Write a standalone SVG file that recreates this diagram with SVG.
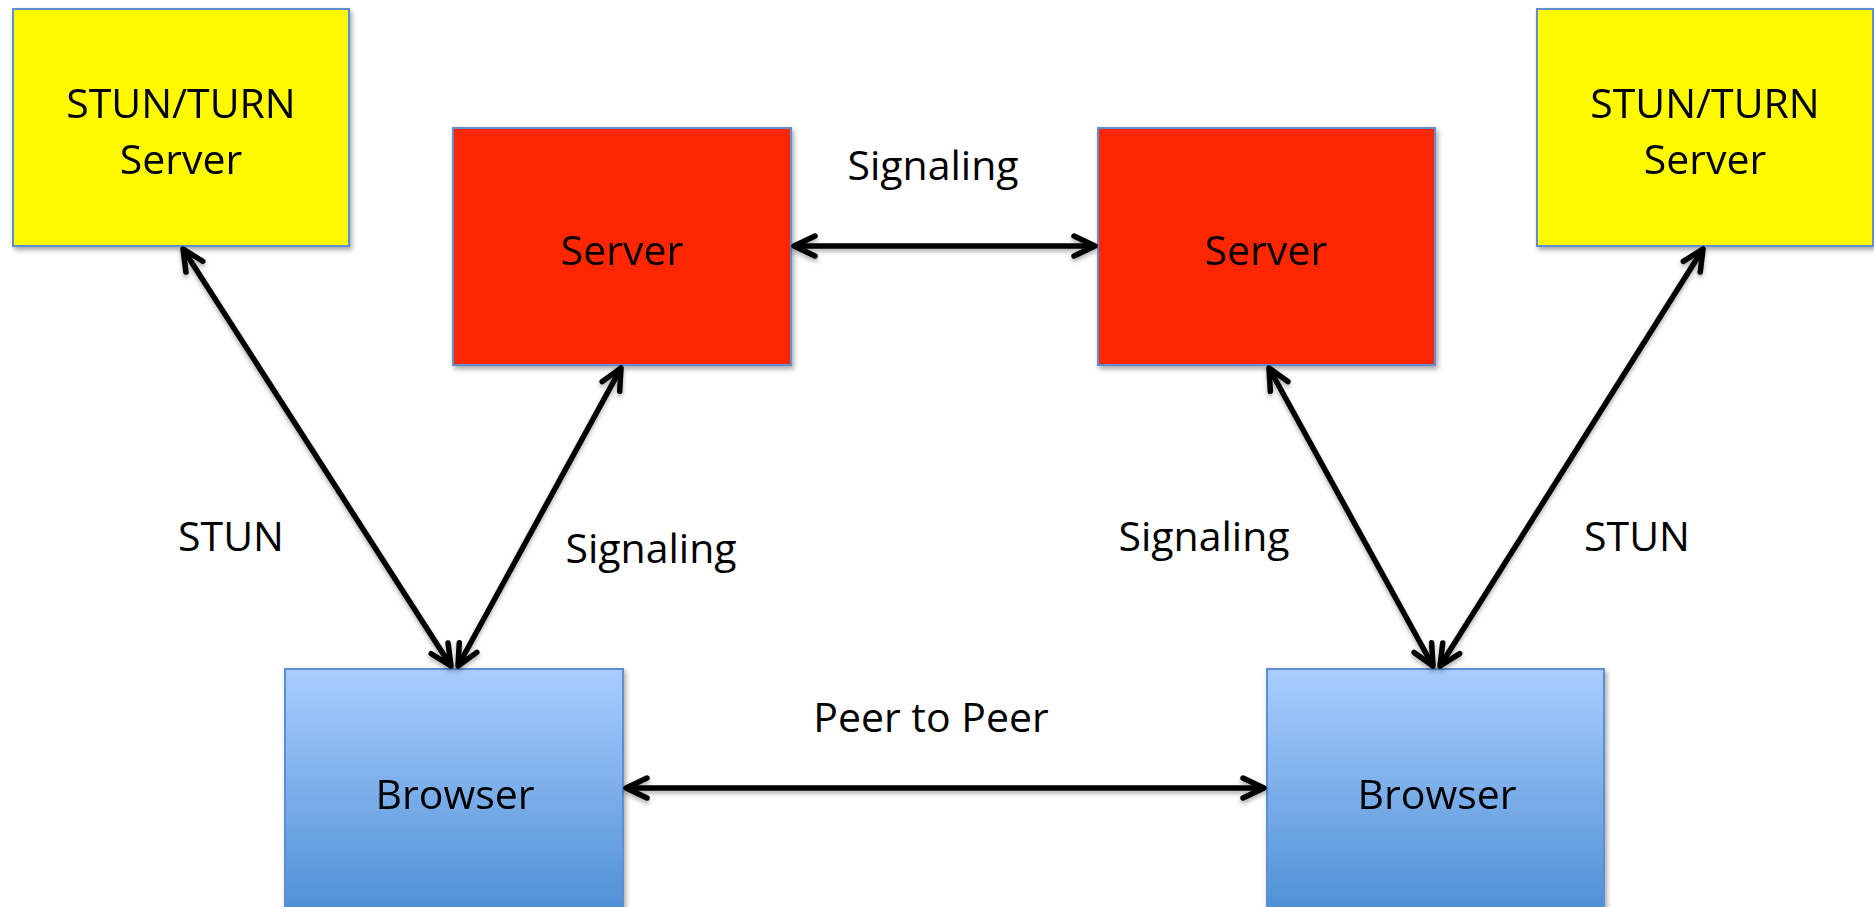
<svg xmlns="http://www.w3.org/2000/svg" width="1874" height="907" viewBox="0 0 1874 907">
  <style>
    .box { stroke: #5D8FD2; stroke-width: 2; }
    .stun { fill: #FFFA00; }
    .srv { fill: #FF2500; }
    .brw { fill: url(#browserFill); }
    .lbl { font-family: "Open Sans", "Liberation Sans", sans-serif; font-size: 41px; fill: #000; text-anchor: middle; }
    .link { stroke: #000; stroke-width: 5.5; fill: none; marker-start: url(#chev); marker-end: url(#chev); }
  </style>
  <defs>
    <linearGradient id="browserFill" x1="0" y1="0" x2="0" y2="1">
      <stop offset="0" stop-color="#A9CDFF"/>
      <stop offset="1" stop-color="#4F91D6"/>
    </linearGradient>
    <filter id="shadow" x="-10%" y="-10%" width="130%" height="130%">
      <feDropShadow dx="2" dy="3" stdDeviation="2.5" flood-color="#000" flood-opacity="0.35"/>
    </filter>
    <filter id="lineShadow" x="-10%" y="-10%" width="120%" height="120%">
      <feDropShadow dx="0" dy="3" stdDeviation="2" flood-color="#000" flood-opacity="0.3"/>
    </filter>
    <marker id="chev" markerUnits="userSpaceOnUse" viewBox="-30 -16 36 32" refX="0" refY="0" markerWidth="36" markerHeight="32" orient="auto-start-reverse">
      <path d="M -21 -10 L 0 0 L -21 10" fill="none" stroke="#000" stroke-width="5.5" stroke-linecap="round" stroke-linejoin="round"/>
    </marker>
  </defs>

  <rect width="1874" height="907" fill="#fff"/>

  <!-- nodes -->
  <g id="stun-left" filter="url(#shadow)">
    <rect class="box stun" x="13" y="9" width="336" height="237"/>
    <text class="lbl" x="181" y="118">STUN/TURN</text>
    <text class="lbl" x="181" y="174">Server</text>
  </g>

  <g id="server-left" filter="url(#shadow)">
    <rect class="box srv" x="453" y="128" width="338" height="237"/>
    <text class="lbl" x="622" y="265">Server</text>
  </g>

  <g id="server-right" filter="url(#shadow)">
    <rect class="box srv" x="1098" y="128" width="337" height="237"/>
    <text class="lbl" x="1266" y="265">Server</text>
  </g>

  <g id="stun-right" filter="url(#shadow)">
    <rect class="box stun" x="1537" y="9" width="336" height="237"/>
    <text class="lbl" x="1705" y="118">STUN/TURN</text>
    <text class="lbl" x="1705" y="174">Server</text>
  </g>

  <g id="browser-left" filter="url(#shadow)">
    <rect class="box brw" x="285" y="669" width="338" height="240"/>
    <text class="lbl" x="455" y="809">Browser</text>
  </g>

  <g id="browser-right" filter="url(#shadow)">
    <rect class="box brw" x="1267" y="669" width="337" height="240"/>
    <text class="lbl" x="1437" y="809">Browser</text>
  </g>

  <!-- connectors -->
  <g id="connectors" filter="url(#lineShadow)">
    <line class="link" x1="183" y1="249" x2="451" y2="666"/>
    <line class="link" x1="621" y1="368" x2="458" y2="666"/>
    <line class="link" x1="794" y1="246" x2="1095" y2="246"/>
    <line class="link" x1="1269" y1="368" x2="1433" y2="666"/>
    <line class="link" x1="1703" y1="249" x2="1440" y2="666"/>
    <line class="link" x1="626" y1="788" x2="1264" y2="788"/>
  </g>

  <!-- connector labels -->
  <g id="labels">
    <text class="lbl" x="933" y="180">Signaling</text>
    <text class="lbl" x="231" y="551">STUN</text>
    <text class="lbl" x="651" y="563">Signaling</text>
    <text class="lbl" x="1204" y="551">Signaling</text>
    <text class="lbl" x="1637" y="551">STUN</text>
    <text class="lbl" x="931" y="732">Peer to Peer</text>
  </g>
</svg>
